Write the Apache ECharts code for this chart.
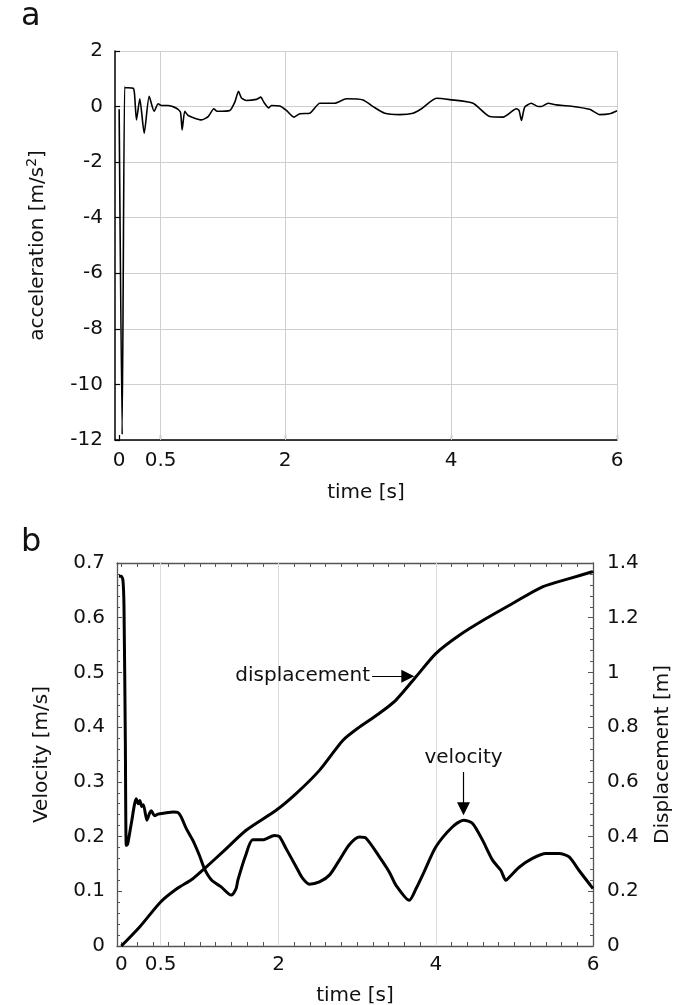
<!DOCTYPE html>
<html><head><meta charset="utf-8">
<script src="https://cdn.jsdelivr.net/npm/echarts@6/dist/echarts.min.js"></script>
<style>html,body{margin:0;padding:0;background:#fff}#c{width:700px;height:1005px}</style>
</head><body><div id="c"></div>
<script>
// ---------- data ----------
const accTime = [0,0.036,0.065,0.073,0.169,0.185,0.209,0.249,0.302,0.362,0.422,0.47,0.51,0.59,0.691,0.739,0.759,0.791,0.831,0.992,1.073,1.141,1.181,1.334,1.394,1.438,1.474,1.534,1.655,1.707,1.743,1.803,1.835,1.936,2.016,2.105,2.177,2.298,2.418,2.599,2.739,2.94,3.06,3.201,3.382,3.542,3.643,3.824,3.984,4.266,4.467,4.627,4.788,4.82,4.848,4.888,4.968,5.049,5.089,5.169,5.27,5.43,5.671,5.791,5.912,6.0];
const accValue = [-0.1,-11.8,0.7,0.68,0.66,0.46,-0.48,0.28,-0.96,0.37,-0.17,0.1,0.04,0.04,-0.06,-0.2,-0.84,-0.17,-0.32,-0.48,-0.36,-0.08,-0.17,-0.14,0.16,0.55,0.31,0.22,0.26,0.34,0.16,-0.05,0.04,0.02,-0.14,-0.38,-0.26,-0.24,0.12,0.12,0.28,0.24,0,-0.24,-0.29,-0.24,-0.08,0.3,0.25,0.12,-0.36,-0.38,-0.08,-0.14,-0.5,-0.02,0.12,0.0,0.0,0.12,0.06,0.02,-0.1,-0.29,-0.26,-0.15];

const velTime = [-0.03,0.0,0.021,0.034,0.051,0.063,0.08,0.127,0.19,0.215,0.235,0.26,0.28,0.326,0.36,0.381,0.423,0.466,0.55,0.66,0.72,0.761,0.825,0.91,0.995,1.058,1.15,1.27,1.397,1.46,1.482,1.58,1.672,1.8,1.948,2.01,2.096,2.223,2.3,2.393,2.52,2.65,2.774,2.9,3.028,3.113,3.283,3.41,3.494,3.663,3.75,3.85,4.0,4.214,4.354,4.468,4.596,4.722,4.829,4.892,4.95,5.061,5.23,5.4,5.569,5.696,5.823,6.0];
const velValue = [0.676,0.676,0.668,0.62,0.376,0.184,0.186,0.224,0.269,0.26,0.266,0.255,0.258,0.23,0.243,0.247,0.238,0.241,0.243,0.245,0.244,0.236,0.215,0.193,0.165,0.141,0.12,0.108,0.093,0.105,0.12,0.165,0.194,0.194,0.202,0.2,0.178,0.145,0.125,0.113,0.117,0.13,0.157,0.185,0.199,0.197,0.163,0.135,0.111,0.0835,0.105,0.135,0.181,0.218,0.23,0.224,0.193,0.157,0.138,0.12,0.128,0.144,0.16,0.169,0.169,0.163,0.138,0.105];

const dispTime = [0,0.233,0.5,0.71,0.91,1.058,1.291,1.588,1.969,2.223,2.52,2.82,3.028,3.28,3.49,3.748,4.0,4.3,4.64,4.976,5.357,5.696,5.99,6.0];
const dispValue = [0,0.0695,0.161,0.21,0.246,0.283,0.344,0.423,0.496,0.557,0.642,0.752,0.8,0.85,0.898,0.984,1.069,1.136,1.197,1.252,1.313,1.343,1.368,1.37];

const timeTickLabels = [0,0.5,2,4,6];
const timeGridLines = [0.5,2,4,6];
const timeGridLinesB = [0.5,2,4];
const timeMinorTicks = [0,0.2,0.4,0.5,0.6,0.8,1,1.2,1.4,1.6,1.8,2,2.2,2.4,2.6,2.8,3,3.2,3.4,3.6,3.8,4,4.2,4.4,4.6,4.8,5,5.2,5.4,5.6,5.8,6];

// annotations (data coordinates on displacement axis)
const dispArrow = [[3.19,0.986],[3.644,0.986]];
const velArrow = [[4.353,0.636],[4.353,0.502]]; // velocity 0.318 -> 0.251, in displacement units

// ---------- chart ----------
const FONT = 'DejaVu Sans';
const TXT = '#111';
const chart = echarts.init(document.getElementById('c'), null, {renderer:'canvas'});
const zip = (a,b)=>a.map((t,i)=>[t,b[i]]);

const baseLabel = {fontFamily:FONT, fontSize:20, color:TXT};

chart.setOption({
  animation:false,
  backgroundColor:'#fff',
  title:[
    {text:'a', left:16, top:-4, textStyle:{fontFamily:FONT, fontSize:32, fontWeight:'normal', color:TXT}},
    {text:'b', left:16, top:522, textStyle:{fontFamily:FONT, fontSize:32, fontWeight:'normal', color:TXT}}
  ],
  grid:[
    {left:115, right:83, top:51, bottom:565, outerBoundsMode:'none', containLabel:false},
    {left:117, right:107, top:563, bottom:59, outerBoundsMode:'none', containLabel:false}
  ],
  xAxis:[
    {gridIndex:0, type:'value', min:-0.05, max:6,
     axisLine:{show:true, onZero:false, lineStyle:{color:'#000', width:1.5}},
     axisTick:{show:true, inside:true, length:5, customValues:timeTickLabels, lineStyle:{color:'#000', width:1.2}},
     axisLabel:{customValues:timeTickLabels, margin:11, formatter:v=>String(v), ...baseLabel},
     splitLine:{show:false},
     name:'time [s]', nameLocation:'middle', nameGap:43, nameMoveOverlap:false,
     nameTextStyle:{...baseLabel}},
    {gridIndex:1, type:'value', min:-0.055, max:6,
     axisLine:{show:true, onZero:false, lineStyle:{color:'#555', width:1.3}},
     axisTick:{show:true, inside:true, length:4, customValues:timeMinorTicks, lineStyle:{color:'#555', width:1}},
     axisLabel:{customValues:timeTickLabels, margin:9, formatter:v=>String(v), ...baseLabel},
     splitLine:{show:false},
     name:'time [s]', nameLocation:'middle', nameGap:40, nameMoveOverlap:false,
     nameTextStyle:{...baseLabel}},
    {gridIndex:1, type:'value', position:'top', min:-0.055, max:6,
     axisLine:{show:true, onZero:false, lineStyle:{color:'#555', width:1.3}},
     axisTick:{show:true, inside:true, length:4, customValues:timeMinorTicks, lineStyle:{color:'#555', width:1}},
     axisLabel:{show:false}, splitLine:{show:false}}
  ],
  yAxis:[
    {gridIndex:0, type:'value', min:-12, max:2, interval:2,
     axisLine:{show:true, onZero:false, lineStyle:{color:'#000', width:1.5}},
     axisTick:{show:true, inside:true, length:5, lineStyle:{color:'#000', width:1.2}},
     axisLabel:{margin:12, ...baseLabel},
     splitLine:{show:true, lineStyle:{color:'#cfcfcf', width:1}},
     name:'acceleration [m/s{sup|2}]', nameLocation:'middle', nameRotate:90, nameGap:64, nameMoveOverlap:false,
     nameTextStyle:{...baseLabel, rich:{sup:{fontFamily:FONT, fontSize:14, color:TXT, padding:[0,0,12,0]}}}},
    {gridIndex:1, type:'value', min:0, max:0.7, interval:0.1,
     axisLine:{show:true, onZero:false, lineStyle:{color:'#555', width:1.3}},
     axisTick:{show:true, inside:true, length:5, lineStyle:{color:'#555', width:1}},
     minorTick:{show:true, splitNumber:5, length:3, lineStyle:{color:'#555', width:1}},
     axisLabel:{margin:12, ...baseLabel},
     splitLine:{show:false},
     name:'Velocity [m/s]', nameLocation:'middle', nameRotate:90, nameGap:65, nameMoveOverlap:false,
     nameTextStyle:{...baseLabel}},
    {gridIndex:1, type:'value', position:'right', min:0, max:1.4, interval:0.2,
     axisLine:{show:true, onZero:false, lineStyle:{color:'#555', width:1.3}},
     axisTick:{show:true, inside:true, length:5, lineStyle:{color:'#555', width:1}},
     minorTick:{show:true, splitNumber:5, length:3, lineStyle:{color:'#555', width:1}},
     axisLabel:{margin:14, ...baseLabel},
     splitLine:{show:false},
     name:'Displacement [m]', nameLocation:'middle', nameRotate:90, nameGap:60, nameMoveOverlap:false,
     nameTextStyle:{...baseLabel}}
  ],
  series:[
    {type:'line', name:'acceleration', xAxisIndex:0, yAxisIndex:0, data:zip(accTime, accValue),
     showSymbol:false, symbol:'none', smooth:0.2, z:3,
     lineStyle:{color:'#000', width:1.6},
     markLine:{silent:true, z:1, symbol:'none', label:{show:false},
       lineStyle:{color:'#cfcfcf', width:1, type:'solid'},
       data:timeGridLines.map(v=>({xAxis:v}))}},
    {type:'line', name:'velocity', xAxisIndex:1, yAxisIndex:1, data:zip(velTime, velValue),
     showSymbol:false, symbol:'none', smooth:0.25, z:3,
     lineStyle:{color:'#000', width:3},
     markLine:{silent:true, z:1, symbol:'none', label:{show:false},
       lineStyle:{color:'#dcdcdc', width:1, type:'solid'},
       data:timeGridLinesB.map(v=>({xAxis:v}))}},
    {type:'line', name:'displacement', xAxisIndex:1, yAxisIndex:2, data:zip(dispTime, dispValue),
     showSymbol:false, symbol:'none', smooth:0.25, z:3,
     lineStyle:{color:'#000', width:3},
     markLine:{silent:true, z:4, symbol:['none','triangle'], symbolSize:13,
       lineStyle:{color:'#000', width:1.2, type:'solid'},
       itemStyle:{color:'#000'},
       label:{show:true, position:'start', distance:2, ...baseLabel},
       data:[
         [{coord:dispArrow[0], label:{formatter:'displacement'}}, {coord:dispArrow[1]}],
         [{coord:velArrow[0], label:{formatter:'velocity', distance:4}}, {coord:velArrow[1]}]
       ]}}
  ]
});
</script>
</body></html>
